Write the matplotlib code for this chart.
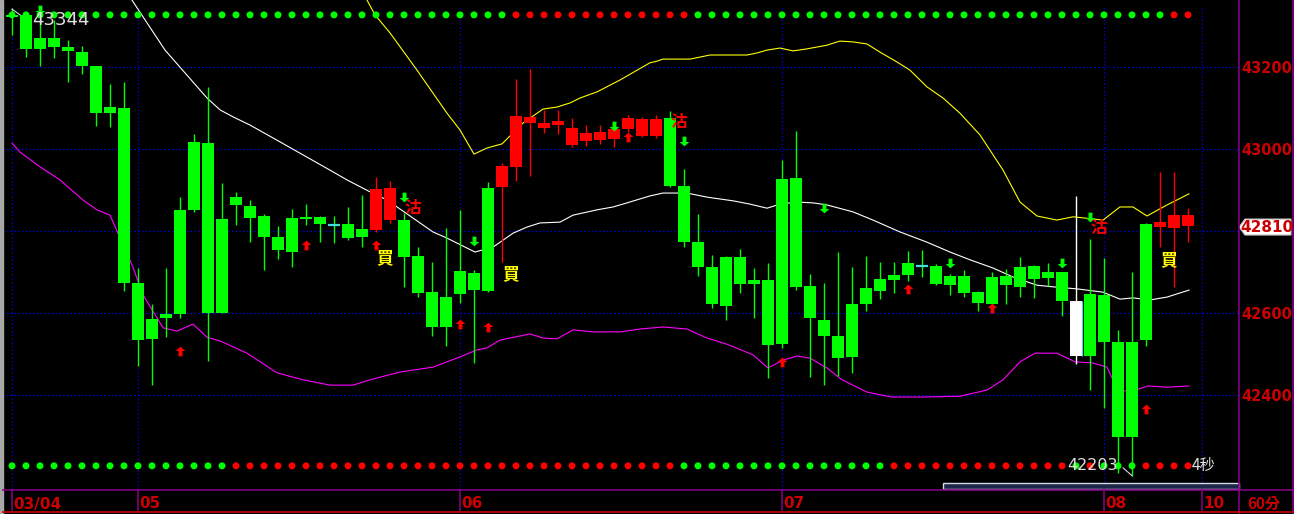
import numpy as np
import matplotlib
matplotlib.use('Agg')
import matplotlib.pyplot as plt
import matplotlib.transforms as mtrans
from matplotlib.path import Path
from matplotlib.patches import Polygon, Rectangle

# 60 min bars 03/04 .. 08  (g=green, r=red, w=white, c=doji)
opens = [43326, 43328, 43271, 43271, 43250, 43237, 43203, 43103, 43101, 42673,
         42585, 42598, 42852, 43018, 43015, 42830, 42883, 42861, 42837, 42786,
         42832, 42835, 42835, 42816, 42817, 42805, 42803, 42827, 42827, 42739,
         42651, 42639, 42703, 42698, 42905, 42908, 42957, 43064, 43052, 43059,
         43010, 43020, 43022, 43025, 43049, 43032, 43032, 43076, 42910, 42773,
         42712, 42737, 42737, 42681, 42681, 42927, 42930, 42666, 42583, 42544,
         42622, 42661, 42683, 42693, 42722, 42716, 42715, 42690, 42690, 42651,
         42688, 42690, 42712, 42715, 42700, 42700, 42629, 42647, 42644, 42529,
         42529, 42817, 42810, 42807, 42812]
highs = [43344, 43330, 43316, 43316, 43267, 43252, 43203, 43159, 43164, 42710,
         42622, 42710, 42883, 43037, 43152, 42917, 42896, 42876, 42842, 42813,
         42854, 42866, 42837, 42837, 42859, 42888, 42932, 42922, 42844, 42761,
         42725, 42808, 42852, 42705, 42920, 42966, 43171, 43196, 43096, 43096,
         43076, 43059, 43059, 43064, 43084, 43079, 43084, 43093, 42952, 42842,
         42742, 42739, 42756, 42710, 42722, 42974, 43044, 42695, 42673, 42749,
         42712, 42739, 42725, 42725, 42752, 42754, 42720, 42695, 42705, 42654,
         42700, 42708, 42737, 42717, 42722, 42700, 42886, 42781, 42734, 42559,
         42700, 42820, 42944, 42944, 42856]
lows = [43279, 43225, 43203, 43223, 43164, 43184, 43056, 43054, 42654, 42471,
        42424, 42541, 42588, 42847, 42483, 42600, 42815, 42773, 42705, 42732,
        42712, 42815, 42773, 42771, 42778, 42761, 42798, 42820, 42664, 42639,
        42544, 42519, 42624, 42478, 42651, 42725, 42922, 42935, 43040, 43037,
        43005, 43008, 43013, 43005, 43042, 43030, 43027, 42908, 42761, 42690,
        42612, 42583, 42649, 42588, 42441, 42515, 42656, 42444, 42424, 42446,
        42454, 42605, 42634, 42649, 42678, 42688, 42668, 42644, 42639, 42605,
        42612, 42622, 42639, 42637, 42666, 42593, 42476, 42412, 42368, 42210,
        42203, 42520, 42761, 42664, 42773]
closes = [43324, 43245, 43245, 43250, 43240, 43203, 43088, 43088, 42673, 42534,
          42537, 42588, 42598, 42852, 42600, 42600, 42864, 42832, 42786, 42754,
          42749, 42830, 42817, 42816, 42783, 42786, 42903, 42905, 42737, 42649,
          42566, 42566, 42646, 42656, 42654, 42959, 43081, 43079, 43064, 43069,
          43052, 43040, 43042, 43049, 43076, 43074, 43074, 42910, 42773, 42712,
          42622, 42617, 42671, 42671, 42522, 42524, 42664, 42588, 42544, 42490,
          42493, 42622, 42654, 42681, 42693, 42716, 42671, 42668, 42649, 42624,
          42622, 42668, 42663, 42683, 42686, 42629, 42495, 42495, 42529, 42297,
          42297, 42534, 42822, 42839, 42839]
kcolor = ('g' * 23 + 'c' + 'g' * 2 + 'r' * 2 + 'g' * 7 + 'r' * 12 + 'g' * 18 + 'c'
          + 'g' * 10 + 'w' + 'g' * 5 + 'r' * 3)

date_idx = [0, 9, 32, 55, 78, 85]
date_lbl = ['03/04', '05', '06', '07', '08', '10']

# white average
ma_x = [8.57, 10.93, 13.93, 14.86, 15.79, 17.0, 18.93, 22.71, 23.93, 25.57, 26.79,
        30.07, 31.07, 33.07, 34.36, 35.79, 36.79, 37.71, 39.14, 40.07, 41.79, 42.93,
        43.93, 45.57, 46.5, 48.21, 49.64, 51.5, 52.71, 53.93, 54.86, 56.07, 57.21,
        58.21, 60.07, 61.5, 63.43, 65.36, 67.0, 68.43, 70.07, 71.5, 73.21, 74.36,
        76.07, 77.93, 79.14, 80.07, 81.29, 82.5, 84.07]
ma_y = [43364, 43242, 43125, 43096, 43079, 43059, 43022, 42949, 42925, 42896, 42876,
        42798, 42783, 42749, 42761, 42795, 42810, 42820, 42822, 42839, 42852, 42859,
        42869, 42886, 42893, 42893, 42883, 42874, 42866, 42856, 42866, 42871, 42869,
        42864, 42847, 42827, 42798, 42773, 42749, 42730, 42710, 42688, 42668, 42664,
        42659, 42651, 42634, 42637, 42632, 42639, 42656]
# yellow upper band
ub_x = [25.36, 25.93, 27.0, 28.93, 31.07, 32.0, 33.0, 33.93, 35.0, 35.79, 36.5,
        37.93, 38.93, 39.86, 40.57, 41.79, 43.43, 45.57, 46.07, 46.5, 48.43, 49.86,
        52.5, 53.21, 53.93, 54.86, 55.79, 56.79, 58.21, 59.14, 60.07, 61.07, 62.0,
        63.21, 64.14, 65.36, 66.5, 67.71, 69.14, 70.79, 72.0, 73.21, 74.64, 75.79,
        77.93, 79.14, 80.07, 81.07, 82.5, 84.07]
ub_y = [43364, 43328, 43284, 43193, 43088, 43047, 42988, 43003, 43013, 43040, 43064,
        43098, 43103, 43113, 43125, 43140, 43169, 43211, 43215, 43220, 43220, 43230,
        43230, 43235, 43242, 43247, 43240, 43245, 43254, 43264, 43262, 43257, 43237,
        43213, 43193, 43152, 43125, 43088, 43035, 42949, 42871, 42837, 42827, 42835,
        42827, 42859, 42859, 42837, 42864, 42891]
# magenta lower band
lb_x = [0, 0.57, 2.0, 3.43, 5.07, 6.07, 7.0, 8.64, 9.36, 10.79, 11.79, 12.93, 13.93,
        14.86, 16.79, 18.93, 20.79, 22.71, 24.36, 25.57, 27.71, 30.07, 32.0, 33.21,
        33.93, 34.86, 37.0, 37.93, 38.93, 40.07, 41.5, 43.43, 44.86, 46.5, 48.21,
        49.64, 51.07, 52.93, 54.0, 55.07, 56.07, 57.0, 58.21, 59.29, 61.07, 62.79,
        65.14, 67.71, 69.64, 70.79, 72.0, 73.07, 74.64, 75.93, 77.21, 78.21, 78.64,
        79.14, 80.07, 81.14, 82.5, 84.07]
lb_y = [43015, 42993, 42957, 42925, 42876, 42852, 42839, 42712, 42644, 42564, 42556,
        42573, 42541, 42532, 42502, 42454, 42437, 42424, 42424, 42437, 42456, 42468,
        42493, 42510, 42515, 42534, 42549, 42539, 42537, 42559, 42554, 42554, 42561,
        42566, 42561, 42539, 42524, 42498, 42466, 42485, 42495, 42490, 42466, 42437,
        42407, 42395, 42395, 42397, 42412, 42437, 42481, 42502, 42502, 42481, 42478,
        42468, 42437, 42410, 42410, 42422, 42419, 42422]

# signal arrows
dn_arrow_x = [2, 28, 33, 43, 48, 58, 67, 75, 77]
dn_arrow_y = [43340, 42883, 42776, 43057, 43020, 42857, 42722, 42722, 42835]
up_arrow_x = [12, 21, 26, 32, 34, 44, 55, 64, 70, 81]
up_arrow_y = [42507, 42766, 42766, 42573, 42566, 43030, 42481, 42659, 42612, 42366]
buy_x = [26, 35, 82]
buy_y = [42756, 42717, 42751]
sell_x = [28, 47, 77]
sell_y = [42878, 43088, 42829]

top_sig = 'G' * 36 + 'R' * 13 + 'G' * 34 + 'R' * 2
bot_sig = 'G' * 16 + 'R' * 32 + 'G' * 15 + 'R' * 13 + 'G' + 'R' + 'G' * 3 + 'R' * 4

hi_val = 43344
lo_val = 42203
last_price = 42810
grid_levels = [42400, 42600, 42800, 43000, 43200]
yticks = [42400, 42600, 43000, 43200]

W, H = 1294, 514
TOP_ROW, BOT_ROW = 43328, 42227
CJK = ['Noto Sans CJK TC', 'DejaVu Sans']
GRN, RED, BLUE, PURP, DRED = '#00ff00', '#ff0000', '#0000ff', '#800080', '#cc0000'

fig = plt.figure(figsize=(W / 100, H / 100), dpi=100, facecolor='black')
ax = fig.add_axes([3 / W, 24 / H, 1236 / W, 490 / H])
ax.set_facecolor('black')
ax.set_xlim(-9 / 14, 1227 / 14)
ax.set_ylim(42168.0, 43364.3)
for s in ax.spines.values():
    s.set_visible(False)
ax.set_xticks([])
ax.yaxis.tick_right()
ax.set_yticks(yticks, [str(v) for v in yticks], fontweight='bold')
ax.tick_params(axis='y', length=0, pad=1.5, labelcolor=DRED, labelsize=10.5)

ov = fig.add_axes([0, 0, 1, 1], zorder=5)
ov.set_xlim(0, W)
ov.set_ylim(H, 0)
ov.axis('off')
ov.patch.set_alpha(0)

# grid
ax.hlines(grid_levels, -1, 88, color=BLUE, lw=0.9, linestyle=(0, (1, 2)), zorder=1)
ax.vlines(date_idx, 42160, 43345, color=BLUE, lw=0.9, linestyle=(0, (1, 2)), zorder=1)

# bands and average
ax.plot(ub_x, ub_y, color='#ffff00', lw=0.8, zorder=2)
ax.plot(lb_x, lb_y, color='#ff00ff', lw=0.8, zorder=2)
ax.plot(ma_x, ma_y, color='white', lw=0.8, zorder=2)

# candles
cmap = {'g': GRN, 'r': RED, 'w': '#ffffff', 'c': '#40e0e0'}
bw = 0.86
for i, k in enumerate(kcolor):
    o, h, l, c = opens[i], highs[i], lows[i], closes[i]
    wick = GRN if k == 'c' else cmap[k]
    ax.vlines(i, l, h, color=wick, lw=1.0, zorder=3)
    if k == 'c' or o == c:
        ax.hlines(o, i - bw / 2, i + bw / 2, color=cmap['c'], lw=1.6, zorder=4)
    else:
        lo_b, hi_b = min(o, c), max(o, c)
        ax.bar(i, max(hi_b - lo_b, 3), bottom=lo_b, width=bw, color=cmap[k],
               linewidth=0, zorder=4)
        if k == 'w':
            ax.vlines(i + bw / 2, lo_b, hi_b, color='#40e0e0', lw=0.9, zorder=5)

# arrows
up_path = Path([(0, 1), (1, 0.1), (0.4, 0.1), (0.4, -1), (-0.4, -1), (-0.4, 0.1),
                (-1, 0.1), (0, 1)], closed=True)
dn_path = Path([(x, -y) for x, y in up_path.vertices], closed=True)
ax.plot(up_arrow_x, up_arrow_y, linestyle='none', marker=up_path, markersize=7,
        color=RED, markeredgewidth=0, zorder=6)
ax.plot(dn_arrow_x, dn_arrow_y, linestyle='none', marker=dn_path, markersize=7,
        color=GRN, markeredgewidth=0, zorder=6)

for x, y in zip(buy_x, buy_y):
    ax.text(x, y, '買', color='#ffff00', fontsize=12, fontweight='bold', family=CJK,
            ha='left', va='top', zorder=7)
for x, y in zip(sell_x, sell_y):
    ax.text(x, y, '沽', color=RED, fontsize=12, fontweight='bold', family=CJK,
            ha='left', va='top', zorder=7)

# signal dot rows
for row, yv in ((top_sig, TOP_ROW), (bot_sig, BOT_ROW)):
    cols = [GRN if s == 'G' else RED for s in row]
    ax.scatter(np.arange(len(row)), [yv] * len(row), c=cols, s=25, marker='o',
               linewidths=0, zorder=6)

# high / low marks
ax.plot([0, 0.57], [hi_val - 2, TOP_ROW], color='#d8d8d8', lw=0.8, zorder=8)
ax.text(1.4, 43316, str(hi_val), color='#e0e0e0', fontsize=13, ha='left', va='center',
        zorder=9)
ax.plot([79.36, 80], [42222, lo_val], color='#d8d8d8', lw=0.8, zorder=8)
ax.text(75.36, 42227, str(lo_val), color='#e0e0e0', fontsize=11.5, ha='left',
        va='center', zorder=9)
ax.text(84.3, 42227, '4秒', color='#e0e0e0', fontsize=11, family=CJK, ha='left',
        va='center', zorder=9)

# frame around
ov.add_patch(Rectangle((0, 0), 3, H, color='#a8a8a8'))
ov.plot([3, W], [490, 490], color=PURP, lw=1.2)
ov.plot([1239, 1239], [0, H], color=PURP, lw=1.2)
ov.plot([1293, 1293], [0, H], color=PURP, lw=1.2)
ov.plot([3, W], [512, 512], color=DRED, lw=1.2)
ov.add_patch(Rectangle((943, 483), 296, 6, facecolor='#1c2848', edgecolor='#d8d8e8',
                       lw=1))

bt = mtrans.blended_transform_factory(ax.transData, ov.transData)
for d, lab in zip(date_idx, date_lbl):
    ov.plot([d, d], [490, 510], color=PURP, lw=1.2, transform=bt)
    ov.text(d + 0.12, 504, lab, transform=bt, color=DRED, fontsize=11,
            fontweight='bold', ha='left', va='center')
ov.text(1247, 504, '60分', color=DRED, fontsize=11, fontweight='bold', family=CJK,
        ha='left', va='center')

# last price flag
py = ov.transData.inverted().transform(ax.transData.transform((0, last_price)))[1]
ov.add_patch(Polygon([(1239, py), (1245, py - 8), (1291, py - 8), (1291, py + 8),
                      (1245, py + 8)], closed=True, facecolor='white',
                     edgecolor='#c0c0c0', lw=0.8))
ov.text(1267, py, str(last_price), color=DRED, fontsize=11, fontweight='bold',
        ha='center', va='center')

fig.savefig('out.png', dpi=100, facecolor='black')
